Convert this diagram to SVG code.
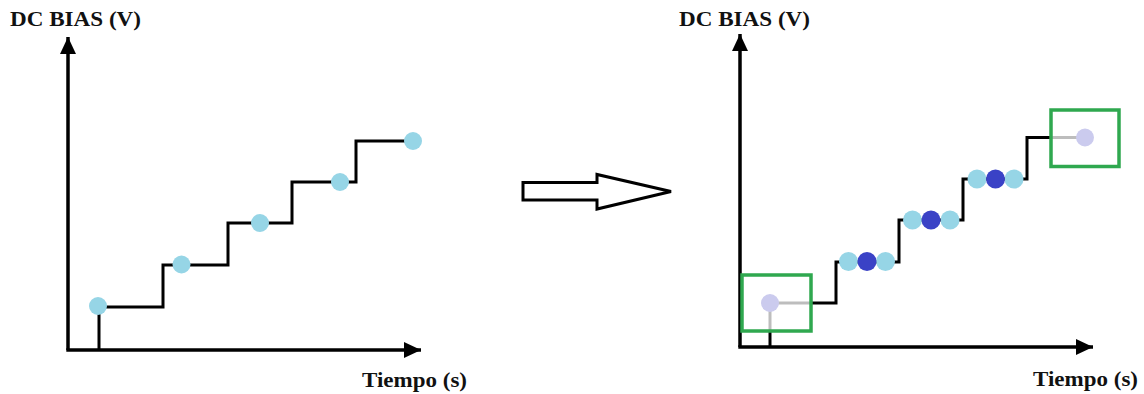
<svg xmlns="http://www.w3.org/2000/svg" width="1144" height="394" viewBox="0 0 1144 394">
  <style>
    .lbl { font-family: "Liberation Serif", serif; font-weight: bold; font-size: 21px; fill: #111; }
    .axis { stroke: #000; stroke-width: 3.5; fill: none; }
    .step { stroke: #000; stroke-width: 3; fill: none; stroke-linejoin: miter; }
    .ghost { stroke: #bdbdbd; stroke-width: 3; fill: none; }
    .lb { fill: #96d5e6; }
    .db { fill: #3a42c6; }
    .lav { fill: #cbcbee; }
    .box { stroke: #2fa84f; stroke-width: 3.5; fill: none; }
  </style>
  <defs>
    <marker id="ah" markerUnits="userSpaceOnUse" markerWidth="18" markerHeight="18" viewBox="0 0 18 18" refX="17" refY="9" orient="auto">
      <path d="M0,1 L17,9 L0,17 z" fill="#000"/>
    </marker>
  </defs>

  <g id="chart-left">
    <text class="lbl" font-family="Liberation Serif" x="10" y="26" textLength="131" lengthAdjust="spacingAndGlyphs">DC BIAS (V)</text>
    <text class="lbl" font-family="Liberation Serif" x="362" y="387" textLength="105" lengthAdjust="spacingAndGlyphs">Tiempo (s)</text>
    <g id="axes-left">
      <path class="axis" d="M68,350 L68,37" marker-end="url(#ah)"/>
      <path class="axis" d="M66.3,350 L421,350" marker-end="url(#ah)"/>
    </g>
    <path class="step" d="M99,350 L99,307 L163,307 L163,265 L228,265 L228,223 L292,223 L292,182 L356,182 L356,141 L413,141"/>
    <g id="points-left">
      <circle class="lb" cx="98" cy="306" r="9"/>
      <circle class="lb" cx="181.5" cy="264.5" r="9"/>
      <circle class="lb" cx="260" cy="223" r="9"/>
      <circle class="lb" cx="340" cy="182" r="9"/>
      <circle class="lb" cx="413" cy="141" r="9"/>
    </g>
  </g>

  <g id="transform-arrow">
    <path d="M523,182.5 L597,182.5 L597,174.5 L671,191.5 L597,209 L597,200 L523,200 Z" fill="#fff" stroke="#000" stroke-width="3" stroke-linejoin="miter"/>
  </g>

  <g id="chart-right">
    <text class="lbl" font-family="Liberation Serif" x="679" y="26" textLength="131" lengthAdjust="spacingAndGlyphs">DC BIAS (V)</text>
    <text class="lbl" font-family="Liberation Serif" x="1033" y="386" textLength="105" lengthAdjust="spacingAndGlyphs">Tiempo (s)</text>
    <g id="axes-right">
      <path class="axis" d="M740,347 L740,34" marker-end="url(#ah)"/>
      <path class="axis" d="M738.3,347 L1093,347" marker-end="url(#ah)"/>
    </g>
    <g id="connectors">
      <path class="step" d="M770,347 L770,331"/>
      <path class="ghost" d="M770,331 L770,303 L811,303"/>
      <path class="step" d="M811,303 L836,303 L836,262 L899,262 L899,220 L963,220 L963,179 L1027,179 L1027,137.5 L1051,137.5"/>
      <path class="ghost" d="M1051,137.5 L1085,137.5"/>
    </g>
    <g id="box-start">
      <rect class="box" x="742" y="275" width="69" height="56"/>
      <circle class="lav" cx="770" cy="303" r="9"/>
    </g>
    <g id="step-1">
      <circle class="lb" cx="848.5" cy="261.5" r="9.5"/>
      <circle class="lb" cx="885.5" cy="261.5" r="9.5"/>
      <circle class="db" cx="867" cy="261.5" r="9.5"/>
    </g>
    <g id="step-2">
      <circle class="lb" cx="912.5" cy="220" r="9.5"/>
      <circle class="lb" cx="950" cy="220" r="9.5"/>
      <circle class="db" cx="931" cy="220" r="9.5"/>
    </g>
    <g id="step-3">
      <circle class="lb" cx="977" cy="179" r="9.5"/>
      <circle class="lb" cx="1014" cy="179" r="9.5"/>
      <circle class="db" cx="995.5" cy="179" r="9.5"/>
    </g>
    <g id="box-end">
      <rect class="box" x="1051" y="110" width="68" height="56.5"/>
      <circle class="lav" cx="1085" cy="137.5" r="9"/>
    </g>
  </g>
</svg>
